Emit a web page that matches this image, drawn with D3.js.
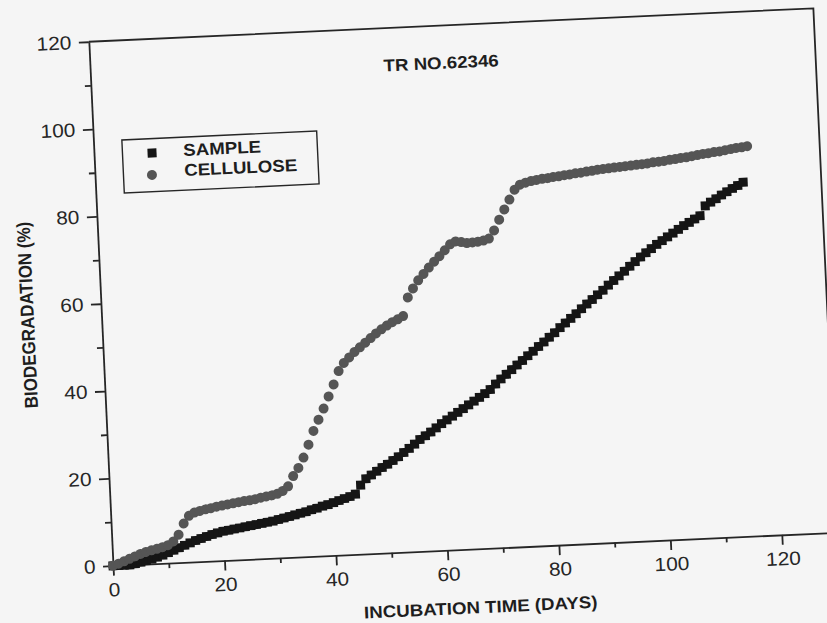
<!DOCTYPE html>
<html lang="en">
<head>
  <meta charset="UTF-8">
  <title>Biodegradation - TR NO.62346</title>
  <style>
    body {
      margin: 0;
      background-color: #f5f5f5;
    }

    svg {
      display: block;
    }

    .axis path,
    .axis line {
      stroke: #262626;
      stroke-width: 1.8px;
    }

    .axis text {
      font-family: "Liberation Sans", Arial, sans-serif;
      font-size: 19px;
      fill: #262626;
    }

    .label {
      font-family: "Liberation Sans", Arial, sans-serif;
      font-size: 17px;
      font-weight: bold;
      fill: #1e1e1e;
    }
  </style>
</head>
<body>
  <svg width="827" height="623"></svg>

  <script src="https://cdn.jsdelivr.net/npm/d3@7/dist/d3.min.js"></script>
  <script>
    // days of incubation (one reading per day)
    const days = [
      0, 1, 2, 3, 4, 5, 6, 7, 8, 9, 10, 11, 12, 13, 14, 15, 16, 17, 18, 19,
      20, 21, 22, 23, 24, 25, 26, 27, 28, 29, 30, 31, 32, 33, 34, 35, 36, 37, 38, 39,
      40, 41, 42, 43, 44, 45, 46, 47, 48, 49, 50, 51, 52, 53, 54, 55, 56, 57, 58, 59,
      60, 61, 62, 63, 64, 65, 66, 67, 68, 69, 70, 71, 72, 73, 74, 75, 76, 77, 78, 79,
      80, 81, 82, 83, 84, 85, 86, 87, 88, 89, 90, 91, 92, 93, 94, 95, 96, 97, 98, 99,
      100, 101, 102, 103, 104, 105, 106, 107, 108, 109, 110, 111, 112, 113, 114, 115, 116, 117
    ];

    // biodegradation (%) of the sample, days 0..116
    const sampleValues = [
      0, 0, 0, 0, 0.2, 0.5, 0.8, 1.1, 1.5, 1.9, 2.4, 2.9, 3.4, 3.9, 4.4, 4.9, 5.3, 5.7, 6.1, 6.4,
      6.7, 6.9, 7.1, 7.3, 7.5, 7.7, 7.9, 8.1, 8.3, 8.5, 8.8, 9.1, 9.4, 9.7, 10.0, 10.3, 10.7, 11.0, 11.4, 11.7,
      12.1, 12.5, 12.9, 13.3, 13.8, 15.8, 17.2, 18.0, 18.8, 19.6, 20.3, 21.1, 21.9, 22.8, 23.7, 24.6, 25.6, 26.4, 27.2, 28.1,
      29.0, 29.8, 30.6, 31.4, 32.2, 33.0, 33.8, 34.6, 35.4, 36.3, 37.5, 38.6, 39.6, 40.6, 41.6, 42.6, 43.6, 44.6, 45.6, 46.6,
      47.6, 48.6, 49.7, 50.7, 51.7, 52.7, 53.8, 54.8, 55.8, 56.8, 57.8, 58.9, 59.9, 60.9, 61.9, 63.0, 64.0, 65.0, 65.9, 66.8,
      67.7, 68.5, 69.3, 70.1, 70.9, 71.7, 72.4, 73.1, 73.8, 76.0, 76.8, 77.5, 78.3, 79.0, 79.7, 80.3, 81.0
    ];

    // biodegradation (%) of the cellulose reference, days 0..117
    const celluloseValues = [
      0, 0.4, 0.9, 1.4, 1.9, 2.4, 2.8, 3.1, 3.4, 3.7, 4.1, 4.9, 6.4, 8.9, 10.6, 11.3, 11.6, 11.9, 12.1, 12.4,
      12.6, 12.8, 13.0, 13.2, 13.4, 13.5, 13.7, 14.0, 14.2, 14.4, 14.7, 15.3, 16.3, 18.6, 20.4, 22.7, 25.6, 28.7, 31.2, 33.7,
      36.4, 39.1, 42.1, 43.9, 45.1, 46.3, 47.3, 48.3, 49.3, 50.3, 51.2, 52.0, 52.7, 53.3, 54.0, 58.2, 60.2, 62.0, 63.4, 64.8,
      66.1, 67.3, 68.6, 69.9, 70.5, 70.3, 70.0, 70.1, 70.2, 70.4, 70.8, 72.6, 75.0, 77.3, 79.5, 81.7, 82.8, 83.2, 83.5, 83.7,
      83.9, 84.0, 84.2, 84.3, 84.5, 84.6, 84.8, 84.9, 85.1, 85.2, 85.4, 85.5, 85.6, 85.7, 85.8, 85.9, 86.0, 86.1, 86.2, 86.3,
      86.5, 86.6, 86.7, 86.9, 87.0, 87.2, 87.3, 87.5, 87.7, 87.9, 88.0, 88.2, 88.3, 88.5, 88.7, 88.9, 89.0, 89.2
    ];

    const xTicks = [0, 20, 40, 60, 80, 100, 120];
    const xMinorTicks = [10, 30, 50, 70, 90, 110];
    const yTicks = [0, 20, 40, 60, 80, 100, 120];
    const yMinorTicks = [10, 30, 50, 70, 90, 110];

    const seriesNames = ["SAMPLE", "CELLULOSE"];
    const title = "TR NO.62346";
    const xTitle = "INCUBATION TIME (DAYS)";
    const yTitle = "BIODEGRADATION (%)";

    const sample = sampleValues.map((v, i) => ({ day: days[i], value: v }));
    const cellulose = celluloseValues.map((v, i) => ({ day: days[i], value: v }));

    // the scanned page sits slightly tilted, so the whole chart is drawn in a rotated group
    const svg = d3.select("svg");
    const g = svg.append("g")
      .attr("transform", "translate(113,565.7) rotate(-2.64)");

    const x = d3.scaleLinear().domain([0, 130]).range([0, 725.3]);
    const y = d3.scaleLinear().domain([0, 120]).range([0, -524.5]);

    const stretch = 1.1; // glyphs in the scan are a bit wider than plain Arial

    // frame (top and right)
    g.append("path")
      .attr("d", `M${x(0)},${y(120)}H${x(130)}V${y(0)}`)
      .attr("fill", "none")
      .attr("stroke", "#262626")
      .attr("stroke-width", 1.8);

    // minor ticks first, then the major axes on top
    g.append("g")
      .attr("class", "axis")
      .call(d3.axisBottom(x).tickValues(xMinorTicks).tickSize(5).tickSizeOuter(0).tickFormat(""))
      .select(".domain").remove();

    g.append("g")
      .attr("class", "axis")
      .call(d3.axisLeft(y).tickValues(yMinorTicks).tickSize(6).tickSizeOuter(0).tickFormat(""))
      .select(".domain").remove();

    const xAxis = g.append("g")
      .attr("class", "axis")
      .call(d3.axisBottom(x).tickValues(xTicks).tickSize(10).tickSizeOuter(0).tickPadding(7));
    xAxis.selectAll(".tick text").attr("transform", `scale(${stretch},1)`);

    const yAxis = g.append("g")
      .attr("class", "axis")
      .call(d3.axisLeft(y).tickValues(yTicks).tickSize(10).tickSizeOuter(0));
    yAxis.selectAll(".tick text")
      .attr("x", -17.5 / stretch)
      .attr("transform", `scale(${stretch},1)`);

    // axis titles
    g.append("text")
      .attr("class", "label")
      .attr("text-anchor", "middle")
      .attr("transform", `translate(${x(65.5)},64.3) scale(${stretch},1)`)
      .text(xTitle);

    g.append("text")
      .attr("class", "label")
      .attr("text-anchor", "middle")
      .attr("transform", `translate(-67.6,${y(58.2)}) rotate(-90) scale(1,${stretch})`)
      .text(yTitle);

    g.append("text")
      .attr("class", "label")
      .attr("text-anchor", "middle")
      .attr("transform", `translate(${x(62.9)},${y(110.1)}) scale(${stretch},1)`)
      .text(title);

    // data
    const square = d3.symbol().type(d3.symbolSquare).size(81);

    g.append("g")
      .selectAll("path")
      .data(sample)
      .join("path")
      .attr("d", square)
      .attr("transform", d => `translate(${x(d.day)},${y(d.value)})`)
      .attr("fill", "#151515");

    g.append("g")
      .selectAll("circle")
      .data(cellulose)
      .join("circle")
      .attr("cx", d => x(d.day))
      .attr("cy", d => y(d.value))
      .attr("r", 5)
      .attr("fill", "#555555");

    // legend
    const legend = g.append("g");

    legend.append("rect")
      .attr("x", x(5.1))
      .attr("y", y(97.2))
      .attr("width", 195)
      .attr("height", 53)
      .attr("fill", "none")
      .attr("stroke", "#262626")
      .attr("stroke-width", 1.4);

    legend.append("path")
      .attr("d", square)
      .attr("transform", `translate(${x(10.4)},${y(93.9)})`)
      .attr("fill", "#151515");

    legend.append("circle")
      .attr("cx", x(10.2))
      .attr("cy", y(88.9))
      .attr("r", 5)
      .attr("fill", "#555555");

    legend.selectAll("text")
      .data(seriesNames)
      .join("text")
      .attr("class", "label")
      .attr("transform", (d, i) => `translate(${x(16)},${y(92.9 - i * 4.6)}) scale(${stretch},1)`)
      .text(d => d);
  </script>
</body>
</html>
